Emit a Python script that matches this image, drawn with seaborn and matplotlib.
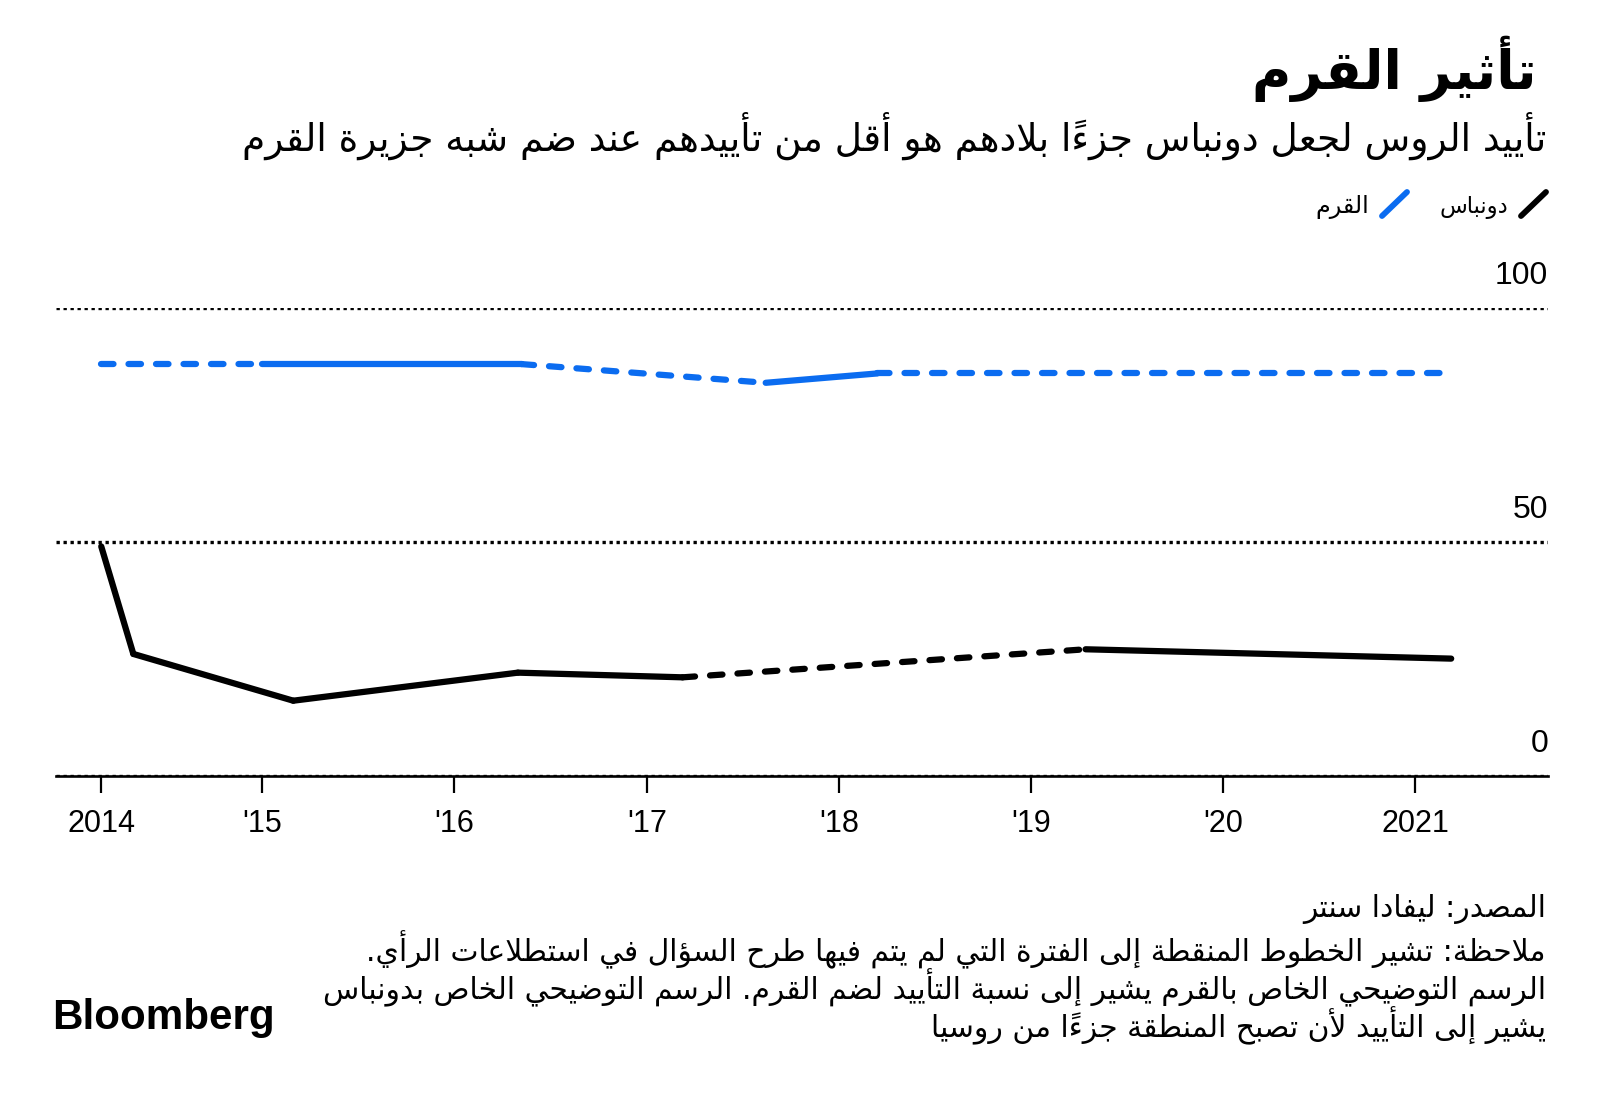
import numpy as np
import pandas as pd
import matplotlib
matplotlib.use("Agg")
import matplotlib.pyplot as plt
import matplotlib.transforms as mtrans
from matplotlib.lines import Line2D
import seaborn as sns

# ---------------- data ----------------
donbas_dates = ["2014-03-01", "2014-05-01", "2015-03-01", "2016-05-01",
                "2017-03-10", "2019-04-15", "2021-03-10"]
donbas_values = [49, 26, 16, 22, 21, 27, 25]
donbas_dashed = [False, False, False, False, True, False]   # per segment

crimea_dates = ["2014-03-01", "2015-01-01", "2016-05-08", "2017-08-15",
                "2018-03-15", "2021-03-10"]
crimea_values = [88, 88, 88, 84, 86, 86]
crimea_dashed = [True, False, True, False, True]             # per segment

x_tick_dates = ["2014-03-01", "2015-01-01", "2016-01-01", "2017-01-01",
                "2018-01-01", "2019-01-01", "2020-01-01", "2021-01-01"]
x_tick_labels = ["2014", "'15", "'16", "'17", "'18", "'19", "'20", "2021"]
y_ticks = [0, 50, 100]

series_names = ["دونباس", "القرم"]
series_colors = ["#000000", "#0b6cf0"]

title = "تأثير القرم"
subtitle = "تأييد الروس لجعل دونباس جزءاً بلادهم هو أقل من تأييدهم عند ضم شبه جزيرة القرم"
footer_lines = [
    "المصدر: ليفادا سنتر",
    "ملاحظة: تشير الخطوط المنقطة إلى الفترة التي لم يتم فيها طرح السؤال في استطلاعات الرأي.",
    "الرسم التوضيحي الخاص بالقرم يشير إلى نسبة التأييد لضم القرم. الرسم التوضيحي الخاص بدونباس",
    "يشير إلى التأييد لأن تصبح المنطقة جزءاً من روسيا",
]

# ---------------- minimal Arabic shaping (presentation forms + RTL order) ----------------
_letters = "ءآأؤإئابةتثجحخدذرزسشصضطظعغفقكلمنهوىي"
_counts = [1, 2, 2, 2, 2, 4, 2, 4, 2, 4, 4, 4, 4, 4, 2, 2, 2, 2, 4, 4, 4, 4, 4, 4,
           4, 4, 4, 4, 4, 4, 4, 4, 4, 2, 2, 4]
FORMS = {}
_cp = 0xFE80
for _ch, _n in zip(_letters, _counts):
    FORMS[_ch] = tuple(chr(_cp + k) for k in range(_n))
    _cp += _n
LAM_ALEF = {"آ": ("\uFEF5", "\uFEF6"), "أ": ("\uFEF7", "\uFEF8"),
            "إ": ("\uFEF9", "\uFEFA"), "ا": ("\uFEFB", "\uFEFC")}
MARKS = set(chr(c) for c in range(0x064B, 0x0653)) | {"\u0670"}


def ar(text):
    items = []
    i = 0
    while i < len(text):
        c = text[i]
        if c in MARKS:
            if items:
                items[-1]["marks"] += c
            i += 1
            continue
        if c == "ل":
            j = i + 1
            m = ""
            while j < len(text) and text[j] in MARKS:
                m += text[j]
                j += 1
            if j < len(text) and text[j] in LAM_ALEF:
                items.append({"c": c, "forms": LAM_ALEF[text[j]], "marks": m})
                i = j + 1
                continue
        items.append({"c": c, "forms": FORMS.get(c), "marks": ""})
        i += 1
    out = []
    for k, it in enumerate(items):
        f = it["forms"]
        if f is None:
            out.append(it["c"] + it["marks"])
            continue
        prev = items[k - 1] if k > 0 else None
        nxt = items[k + 1] if k + 1 < len(items) else None
        jp = prev is not None and prev["forms"] is not None and len(prev["forms"]) == 4
        jn = (len(f) == 4 and nxt is not None and nxt["forms"] is not None
              and len(nxt["forms"]) > 1)
        if len(f) == 4:
            idx = 3 if (jp and jn) else 1 if jp else 2 if jn else 0
        elif len(f) == 2:
            idx = 1 if jp else 0
        else:
            idx = 0
        out.append(f[idx] + it["marks"])
    return "".join(reversed(out))


# ---------------- build long table of segments ----------------
rows = []
seg_id = 0
for name, dates, vals, dashed in [(series_names[0], donbas_dates, donbas_values, donbas_dashed),
                                  (series_names[1], crimea_dates, crimea_values, crimea_dashed)]:
    for k, d in enumerate(dashed):
        for j in (k, k + 1):
            rows.append({"date": pd.Timestamp(dates[j]), "value": vals[j], "series": name,
                         "segment": seg_id, "style": "dashed" if d else "solid"})
        seg_id += 1
df = pd.DataFrame(rows)

# ---------------- figure ----------------
sns.set_theme(style="white")
plt.rcParams["font.family"] = ["DejaVu Sans"]

W, H = 1600, 1095
fig = plt.figure(figsize=(W / 100, H / 100), dpi=100)
fig.patch.set_facecolor("white")


def fx(x):
    return x / W


def fy(y):
    return 1 - y / H


ax = fig.add_axes([fx(56), fy(775.5), (1548 - 56) / W, (775.5 - 308) / H])
ax.set_facecolor("white")

sns.lineplot(data=df, x="date", y="value", hue="series", style="style", units="segment",
             estimator=None, palette=dict(zip(series_names, series_colors)),
             dashes={"solid": "", "dashed": (2.0, 2.4)}, linewidth=4.5,
             legend=False, ax=ax, solid_capstyle="round", dash_capstyle="round",
             solid_joinstyle="round", clip_on=False, zorder=3)

ax.set_xlim(pd.Timestamp("2013-12-05"), pd.Timestamp("2021-09-10"))
ax.set_ylim(0, 100)
ax.set_xlabel("")
ax.set_ylabel("")

ax.set_yticks(y_ticks)
ax.set_axisbelow(True)
ax.yaxis.grid(True, linestyle=(0, (1, 1.1)), linewidth=2.4, color="black")
ax.xaxis.grid(False)
ax.tick_params(axis="y", left=False, right=False, labelleft=False, labelright=False)

ax.set_xticks(pd.to_datetime(x_tick_dates))
ax.set_xticklabels(x_tick_labels, fontfamily="Liberation Sans", fontsize=22, color="black")
ax.tick_params(axis="x", bottom=True, length=12, width=1.6, color="black", pad=12,
               direction="out")

for s in ["top", "left", "right"]:
    ax.spines[s].set_visible(False)
ax.spines["bottom"].set_linewidth(1.9)
ax.spines["bottom"].set_color("black")

ylab_tr = mtrans.offset_copy(ax.get_yaxis_transform(), fig=fig, x=0, y=32 * 0.72, units="points")
for v in y_ticks:
    ax.text(1.0, v, str(v), transform=ylab_tr, ha="right", va="center",
            fontfamily="Liberation Sans", fontsize=23, color="black")

# ---------------- texts ----------------
fig.canvas.draw()
renderer = fig.canvas.get_renderer()


def fit_text(x, y, s, target_w, size, **kw):
    t = fig.text(fx(x), fy(y), s, fontsize=size, **kw)
    w = t.get_window_extent(renderer).width
    t.set_fontsize(size * target_w / w)
    return t


fit_text(1537, 89, ar(title), 284, 40, ha="right", va="baseline",
         fontweight="bold", color="black")
fit_text(1546, 151, ar(subtitle), 1305, 26, ha="right", va="baseline", color="black")

# legend
leg = fit_text(1508, 213, ar(series_names[0]), 69, 16, ha="right", va="baseline",
               color="black")
fig.text(fx(1369), fy(213), ar(series_names[1]), fontsize=leg.get_fontsize() * 1.05,
         ha="right", va="baseline", color="black")
fig.add_artist(Line2D([fx(1521), fx(1546)], [fy(216), fy(192)], transform=fig.transFigure,
                      color=series_colors[0], linewidth=4.2))
fig.add_artist(Line2D([fx(1382), fx(1407)], [fy(216), fy(192)], transform=fig.transFigure,
                      color=series_colors[1], linewidth=4.2))

# footer
ft = fit_text(1546, 999, ar(footer_lines[2]), 1225, 18, ha="right", va="baseline",
              color="black")
fsize = ft.get_fontsize()
for text, yb in zip([footer_lines[0], footer_lines[1], footer_lines[3]], [917, 961, 1037]):
    fig.text(fx(1546), fy(yb), ar(text), fontsize=fsize, ha="right", va="baseline",
             color="black")

fig.text(fx(52), fy(1029), "Bloomberg", fontfamily="Liberation Sans", fontweight="bold",
         fontsize=30.3, ha="left", va="baseline", color="black")

fig.savefig("out.png", dpi=100, facecolor="white")
